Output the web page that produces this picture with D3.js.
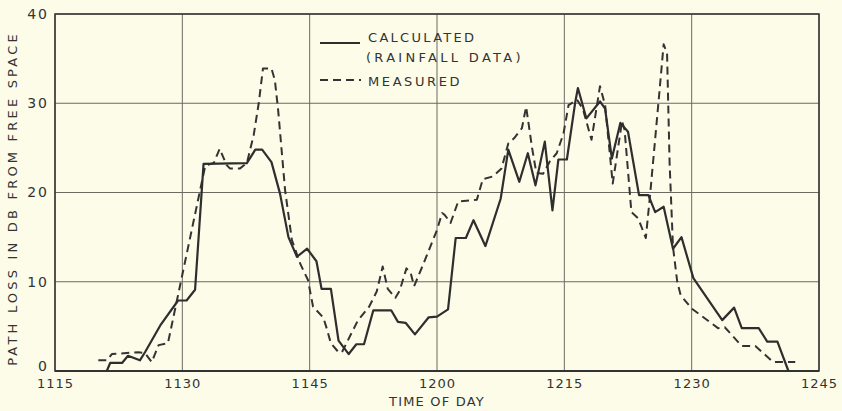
<!DOCTYPE html>
<html>
<head>
<meta charset="utf-8">
<script src="https://cdn.jsdelivr.net/npm/d3@7/dist/d3.min.js"></script>
<style>
  html, body { margin: 0; padding: 0; background: #fcfce9; }
  svg { display: block; }
  text { font-family: "DejaVu Sans", sans-serif; fill: #333; }
</style>
</head>
<body>
<svg id="chart" width="842" height="411"></svg>
<script>
// Time in minutes after 11:00, path loss in dB
const calcTime = [21.1, 21.5, 22.9, 23.6, 25.0, 25.6, 27.4, 29.5, 30.5, 31.5, 32.5,
  37.6, 38.6, 39.4, 40.5, 41.5, 42.5, 43.5, 44.7, 45.8, 46.4, 47.5, 48.4, 49.6,
  50.5, 51.4, 52.5, 54.6, 55.4, 56.3, 57.4, 59.0, 60.0, 61.3, 62.2, 63.4, 64.3,
  65.7, 67.5, 68.4, 69.7, 70.7, 71.6, 72.7, 73.6, 74.3, 75.3, 76.3, 76.6, 77.6,
  79.2, 79.8, 80.6, 81.6, 82.5, 83.8, 84.9, 85.7, 86.7, 87.8, 88.8, 90.2, 93.6,
  95.0, 95.9, 97.9, 98.9, 100.1, 101.4];
const calcLoss = [0.0, 0.9, 0.9, 1.7, 1.2, 2.1, 5.1, 7.9, 7.9, 9.1, 23.2,
  23.3, 24.8, 24.8, 23.4, 19.9, 15.0, 12.8, 13.7, 12.3, 9.2, 9.2, 3.4, 1.9,
  3.0, 3.0, 6.8, 6.8, 5.5, 5.4, 4.1, 6.0, 6.1, 6.9, 14.9, 14.9, 16.9,
  14.0, 19.3, 24.8, 21.2, 24.4, 20.8, 25.7, 18.0, 23.7, 23.7, 30.2, 31.7, 28.3,
  30.2, 29.4, 23.8, 27.8, 26.8, 19.7, 19.7, 17.8, 18.4, 13.7, 15.0, 10.4, 5.7,
  7.1, 4.8, 4.8, 3.3, 3.3, 0.0];

const measTime = [20.1, 21.1, 21.7, 24.8, 25.6, 26.4, 27.2, 28.3, 32.7, 33.7,
  34.4, 35.2, 35.6, 36.8, 37.6, 38.4, 39.0, 39.5, 40.5, 40.9, 41.3, 42.1, 42.9,
  43.9, 44.8, 45.4, 46.6, 47.0, 47.5, 48.4, 48.8, 49.8, 50.7, 52.0, 52.9, 53.6,
  54.2, 55.1, 55.6, 56.4, 56.9, 57.3, 58.4, 60.0, 60.6, 60.9, 61.6, 62.5, 64.7,
  65.4, 66.6, 67.6, 68.4, 69.1, 70.0, 70.5, 71.2, 71.7, 72.5, 73.3, 74.1, 74.9,
  75.5, 76.5, 77.2, 78.2, 79.2, 79.8, 80.7, 81.8, 82.1, 82.9, 83.7, 84.6, 85.1,
  86.1, 86.7, 87.1, 87.4, 87.8, 88.3, 88.7, 90.0, 93.1, 93.9, 95.9, 97.5, 99.6,
  102.2];
const measLoss = [1.2, 1.2, 1.9, 2.1, 2.0, 1.0, 2.9, 3.1, 23.0, 23.3,
  24.9, 23.1, 22.7, 22.7, 23.3, 26.4, 30.0, 33.9, 33.9, 32.6, 29.1, 20.3, 14.7,
  12.0, 10.2, 7.2, 6.0, 4.8, 3.1, 2.1, 2.1, 4.0, 5.7, 7.2, 8.9, 11.7,
  9.2, 8.2, 9.0, 11.5, 11.0, 9.5, 12.0, 15.8, 17.7, 17.5, 16.6, 19.0, 19.2,
  21.5, 21.8, 22.7, 25.5, 26.1, 27.2, 29.6, 25.0, 22.2, 22.1, 23.5, 24.4, 26.6,
  29.8, 30.4, 29.3, 25.9, 31.9, 29.8, 21.0, 28.0, 27.0, 17.8, 17.1, 14.9, 19.7,
  30.2, 36.6, 35.6, 23.3, 13.9, 10.0, 8.5, 7.0, 4.8, 4.9, 2.8, 2.8, 1.0,
  1.0];

const xTicks = [15, 30, 45, 60, 75, 90, 105];
const xTickLabels = ["1115", "1130", "1145", "1200", "1215", "1230", "1245"];
const yTicks = [0, 10, 20, 30, 40];

const svg = d3.select("#chart");
const m = { left: 55, right: 819, top: 14, bottom: 371 };

const x = d3.scaleLinear().domain([15, 105]).range([m.left, m.right]);
const y = d3.scaleLinear().domain([0, 40]).range([m.bottom, m.top]);

// grid
const grid = svg.append("g");
grid.selectAll(".vg").data(xTicks).join("line")
  .attr("x1", d => x(d)).attr("x2", d => x(d))
  .attr("y1", m.top).attr("y2", m.bottom)
  .attr("stroke", "#6a6a62").attr("stroke-width", 1);
grid.selectAll(".hg").data(yTicks).join("line")
  .attr("x1", m.left).attr("x2", m.right)
  .attr("y1", d => y(d)).attr("y2", d => y(d))
  .attr("stroke", "#6a6a62").attr("stroke-width", 1);

// frame
svg.append("rect")
  .attr("x", m.left).attr("y", m.top)
  .attr("width", m.right - m.left).attr("height", m.bottom - m.top)
  .attr("fill", "none").attr("stroke", "#333").attr("stroke-width", 1.5);
svg.append("line")
  .attr("x1", m.left).attr("x2", m.right)
  .attr("y1", m.bottom).attr("y2", m.bottom)
  .attr("stroke", "#333").attr("stroke-width", 2.2);

// axes (labels only)
const xAxis = d3.axisBottom(x).tickValues(xTicks)
  .tickFormat((d, i) => xTickLabels[i]).tickSize(0).tickPadding(8);
const gx = svg.append("g").attr("transform", `translate(0,${m.bottom})`).call(xAxis);
gx.select(".domain").remove();
gx.selectAll("text").attr("font-size", 13).attr("fill", "#333")
  .attr("font-family", "DejaVu Sans, sans-serif").attr("letter-spacing", 1);

const yAxis = d3.axisLeft(y).tickValues(yTicks).tickSize(0).tickPadding(6);
const gy = svg.append("g").attr("transform", `translate(${m.left},0)`).call(yAxis);
gy.select(".domain").remove();
gy.selectAll("text").attr("font-size", 14).attr("fill", "#333")
  .attr("font-family", "DejaVu Sans, sans-serif").attr("letter-spacing", 2)
  .attr("dy", d => d === 0 ? "-0.05em" : "0.32em");

// axis titles
svg.append("text")
  .attr("x", x(60)).attr("y", 406)
  .attr("text-anchor", "middle").attr("font-size", 13).attr("letter-spacing", 1.2)
  .text("TIME OF DAY");
svg.append("text")
  .attr("transform", `translate(17,${(m.top + m.bottom) / 2 + 6}) rotate(-90)`)
  .attr("text-anchor", "middle").attr("font-size", 13).attr("letter-spacing", 3.2)
  .text("PATH LOSS IN DB FROM FREE SPACE");

// series
const calc = calcTime.map((t, i) => [t, calcLoss[i]]);
const meas = measTime.map((t, i) => [t, measLoss[i]]);
const line = d3.line().x(d => x(d[0])).y(d => y(d[1]));

svg.append("path").datum(meas)
  .attr("d", line).attr("fill", "none")
  .attr("stroke", "#333").attr("stroke-width", 2)
  .attr("stroke-dasharray", "8,5").attr("stroke-linejoin", "round");
svg.append("path").datum(calc)
  .attr("d", line).attr("fill", "none")
  .attr("stroke", "#2e2e2e").attr("stroke-width", 2.2)
  .attr("stroke-linejoin", "round");

// legend
const lg = svg.append("g");
lg.append("line").attr("x1", 320).attr("x2", 360).attr("y1", 43).attr("y2", 43)
  .attr("stroke", "#2e2e2e").attr("stroke-width", 2.2);
lg.append("line").attr("x1", 320).attr("x2", 361).attr("y1", 80).attr("y2", 80)
  .attr("stroke", "#333").attr("stroke-width", 2).attr("stroke-dasharray", "8,5");
lg.append("text").attr("x", 368).attr("y", 42).attr("font-size", 13)
  .attr("letter-spacing", 2.3).text("CALCULATED");
lg.append("text").attr("x", 366).attr("y", 62).attr("font-size", 13)
  .attr("letter-spacing", 3.3).text("(RAINFALL DATA)");
lg.append("text").attr("x", 368).attr("y", 86).attr("font-size", 13)
  .attr("letter-spacing", 2.6).text("MEASURED");
</script>
</body>
</html>
